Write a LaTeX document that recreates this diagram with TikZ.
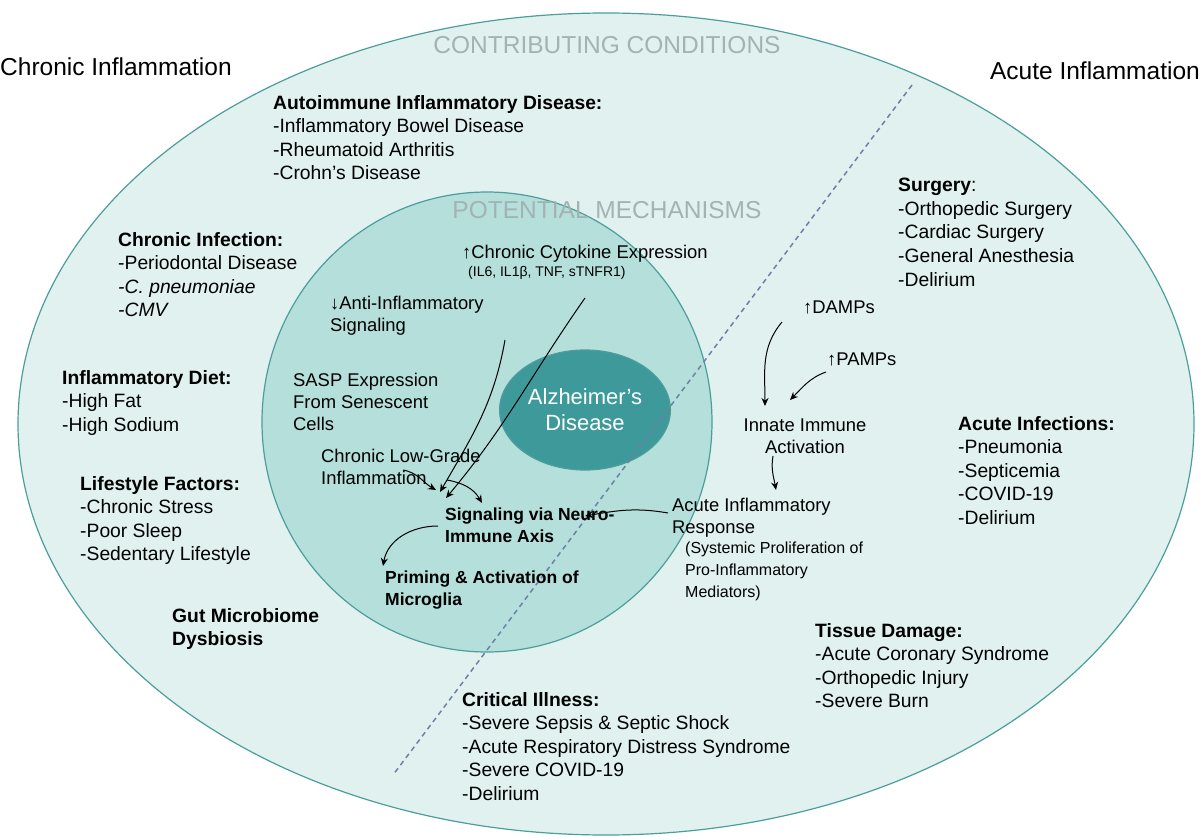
\documentclass[tikz,border=0pt]{standalone}
\usepackage{fontspec}
\setmainfont{Liberation Sans}
\usetikzlibrary{arrows.meta,shapes.geometric}
\definecolor{outerfill}{HTML}{E0F1EF}
\definecolor{innerfill}{HTML}{B5DFDA}
\definecolor{corefill}{HTML}{3E9A9A}
\definecolor{rimline}{HTML}{4C9E9C}
\definecolor{dashline}{HTML}{6E80A8}
\definecolor{titlegray}{HTML}{A3B3B2}
\begin{document}
\begin{tikzpicture}[x=1pt,y=-1pt,
  txt/.style={anchor=north west,inner sep=0pt,align=left,font=\fontsize{19.3}{23.6}\selectfont},
  mech/.style={anchor=north west,inner sep=0pt,align=left,font=\fontsize{18.4}{21.8}\selectfont},
  small/.style={anchor=north west,inner sep=0pt,align=left,font=\fontsize{14}{22.5}\selectfont},
  head/.style={inner sep=0pt,font=\fontsize{24.5}{26}\selectfont},
  flow/.style={-{Stealth[length=8pt,width=7pt]},line width=1pt}]
\useasboundingbox (0,0) rectangle (1200,840);
% rings
\fill[outerfill,draw=rimline,line width=1.2pt] (606,424) ellipse [x radius=588,y radius=411];
\fill[innerfill,draw=rimline,line width=1.2pt] (487,422) ellipse [x radius=225,y radius=230];
\node[ellipse,fill=corefill,draw=rimline,line width=1.2pt,minimum width=156pt,minimum height=120pt,
  text=white,align=center,font=\fontsize{22}{26}\selectfont] (ad) at (585,410) {Alzheimer's\\Disease};
\coordinate (dtop) at (912,85);
\coordinate (dbot) at (393,775);
\draw[dashline,line width=1.5pt,dash pattern=on 5pt off 4pt] (dtop) -- (dbot);
% headings
\node[head,anchor=west] (chr) at (0,67) {Chronic Inflammation};
\node[head,anchor=east] (acu) at (1200,71) {Acute Inflammation};
\node[head,text=titlegray] (cc) at (607,45) {CONTRIBUTING CONDITIONS};
\node[head,text=titlegray] (pm) at (607,210) {POTENTIAL MECHANISMS};
% contributing conditions
\node[txt] (auto) at (273,95) {\textbf{Autoimmune Inflammatory Disease:}\\-Inflammatory Bowel Disease\\-Rheumatoid Arthritis\\-Crohn's Disease};
\node[txt] (surg) at (898,178) {\textbf{Surgery}:\\-Orthopedic Surgery\\-Cardiac Surgery\\-General Anesthesia\\-Delirium};
\node[txt] (cinf) at (118,232) {\textbf{Chronic Infection:}\\-Periodontal Disease\\\textit{-C. pneumoniae}\\\textit{-CMV}};
\node[txt] (diet) at (62,370) {\textbf{Inflammatory Diet:}\\-High Fat\\-High Sodium};
\node[txt] (life) at (80,476) {\textbf{Lifestyle Factors:}\\-Chronic Stress\\-Poor Sleep\\-Sedentary Lifestyle};
\node[txt] (gut) at (172,608) {\textbf{Gut Microbiome}\\\textbf{Dysbiosis}};
\node[txt] (ainf) at (958,416) {\textbf{Acute Infections:}\\-Pneumonia\\-Septicemia\\-COVID-19\\-Delirium};
\node[txt] (tis) at (815,623) {\textbf{Tissue Damage:}\\-Acute Coronary Syndrome\\-Orthopedic Injury\\-Severe Burn};
\node[txt] (crit) at (462,692) {\textbf{Critical Illness:}\\-Severe Sepsis \& Septic Shock\\-Acute Respiratory Distress Syndrome\\-Severe COVID-19\\-Delirium};
% mechanisms
\node[mech] (cyto) at (462,245) {↑Chronic Cytokine Expression};
\node[small] (cytol) at (468,266) {(IL6, IL1β, TNF, sTNFR1)};
\node[mech] (anti) at (330,296) {↓Anti-Inflammatory\\Signaling};
\node[mech] (sasp) at (293,373) {SASP Expression\\From Senescent\\Cells};
\node[mech] (lowg) at (321,449) {Chronic Low-Grade\\Inflammation};
\node[mech,font=\bfseries\fontsize{17.5}{21.8}\selectfont] (neuro) at (445,508) {Signaling via Neuro-\\Immune Axis};
\node[mech,font=\bfseries\fontsize{17.5}{21.8}\selectfont] (prim) at (385,571) {Priming \& Activation of\\Microglia};
\node[mech] (damp) at (803,301) {↑DAMPs};
\node[mech] (pamp) at (827,353) {↑PAMPs};
\node[mech,align=center,anchor=north] (innate) at (805,419) {Innate Immune\\Activation};
\node[mech] (acir) at (672,498) {Acute Inflammatory\\Response};
\node[mech,font=\fontsize{16}{22}\selectfont] (syst) at (685,542) {(Systemic Proliferation of\\Pro-Inflammatory\\Mediators)};
% arrows
\coordinate (cytoout) at (585,298);
\coordinate (antiout) at (505,340);
\coordinate (saspout) at (403,470);
\coordinate (lowgout) at (447,480);
\coordinate (neuroin) at (482,503);
\coordinate (neuroout) at (438,526);
\coordinate (primin) at (383,566);
\coordinate (acirout) at (668,513);
\coordinate (neuroe) at (585,516);
\coordinate (dampout) at (782,322);
\coordinate (pampout) at (826,372);
\coordinate (innin) at (765,406);
\coordinate (innin2) at (790,400);
\coordinate (innout) at (773,456);
\coordinate (acirin) at (776,490);
\draw[flow] (cytoout) to[out=235,in=50] (446,498);
\draw[flow] (antiout) to[out=260,in=60] (440,492);
\draw[flow] (saspout) to[out=-10,in=150] (436,490);
\draw[flow] (lowgout) to[out=-10,in=120] (neuroin);
\draw[flow] (neuroout) to[out=180,in=80] (primin);
\draw[flow] (acirout) to[out=170,in=10] (neuroe);
\draw[flow] (dampout) to[out=230,in=90] (innin);
\draw[flow] (pampout) to[out=200,in=45] (innin2);
\draw[flow] (innout) to[out=260,in=100] (acirin);
\end{tikzpicture}
\end{document}
